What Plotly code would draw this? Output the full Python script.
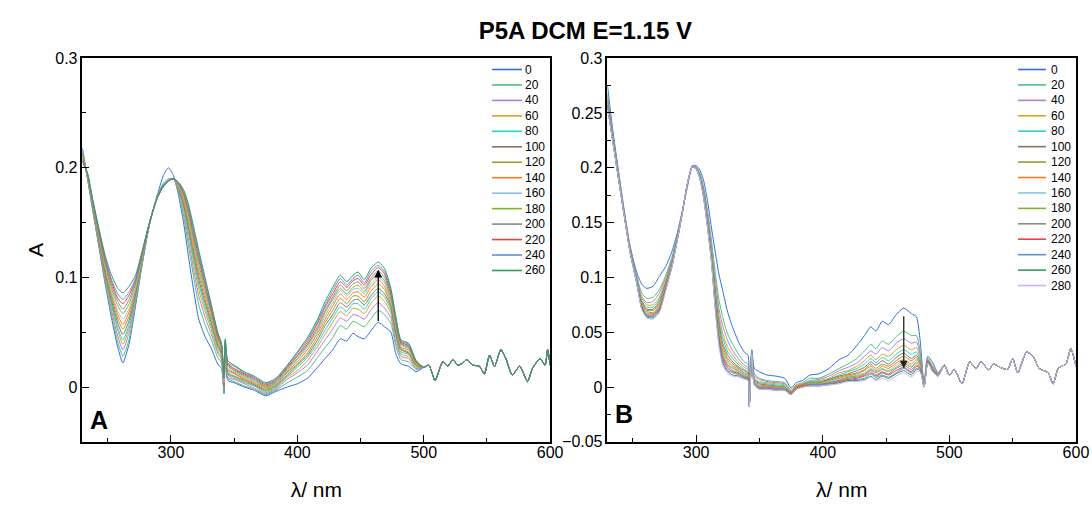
import plotly.graph_objects as go

# ---------------- data: panel A (oxidation, 0-260 s) ----------------
wl_a_head = [230, 234, 238, 243, 248, 253, 258, 262, 267, 272, 277, 283, 289, 294, 298, 302, 306, 310, 314, 318,
             322, 327, 332, 337, 340, 342, 343, 345, 350, 358, 366, 375, 383, 392, 400, 408, 416, 422, 428, 434,
             439, 444, 448, 453, 458, 464, 469, 474, 478, 482, 488, 494]
wl_a_tail = [500, 504, 509, 515, 519, 523, 527, 531, 534, 539, 544, 548, 552, 556, 561, 565, 570, 576, 582, 586,
             592, 596, 598, 600]
a_tail = [.018, .020, .006, .023, .019, .025, .020, .022, .025, .020, .019, .012, .029, .019, .034, .026, .011, .019,
          .005, .017, .026, .020, .034, .020]

a_t0 = [.218,.190,.162,.128,.094,.063,.036,.022,.040,.074,.110,.148,.174,.193,.200,.193,.175,.150,.118,.088,.062,.046,.035,.021,.017,-.006,.030,.006,.004,.000,-.003,-.008,-.004,.000,.003,.008,.018,.026,.034,.044,.042,.049,.046,.044,.051,.059,.055,.050,.030,.021,.019,.014]
a_t20 = [.217,.190,.163,.129,.096,.066,.041,.028,.044,.076,.111,.148,.174,.186,.190,.190,.177,.156,.128,.100,.075,.057,.043,.027,.022,-.004,.031,.008,.005,.001,-.002,-.007,-.003,.004,.009,.015,.027,.036,.045,.056,.053,.060,.058,.055,.062,.070,.066,.058,.037,.025,.023,.016]
a_t40 = [.216,.191,.164,.131,.099,.070,.046,.034,.050,.079,.112,.148,.174,.185,.189,.190,.179,.160,.134,.107,.083,.064,.048,.031,.025,-.003,.033,.009,.007,.003,-.001,-.006,-.002,.007,.013,.020,.033,.043,.053,.063,.060,.066,.065,.062,.070,.077,.072,.063,.041,.028,.026,.017]
a_t60 = [.214,.191,.165,.133,.101,.074,.051,.039,.054,.082,.114,.149,.173,.184,.188,.190,.180,.163,.139,.113,.089,.069,.052,.033,.027,-.001,.034,.011,.008,.004,.001,-.005,-.001,.009,.015,.024,.037,.048,.059,.069,.065,.072,.071,.067,.076,.083,.078,.067,.045,.030,.028,.018]
a_t80 = [.214,.192,.165,.134,.103,.076,.054,.043,.057,.083,.114,.149,.173,.184,.188,.190,.181,.165,.142,.117,.094,.073,.055,.036,.029,.000,.035,.012,.009,.005,.001,-.004,.000,.010,.018,.027,.040,.052,.063,.073,.069,.076,.076,.071,.080,.087,.082,.070,.047,.032,.030,.019]
a_t100 = [.213,.192,.166,.135,.104,.079,.058,.048,.061,.085,.115,.149,.173,.184,.188,.190,.182,.167,.145,.121,.098,.077,.058,.038,.030,.001,.036,.013,.010,.006,.002,-.003,.001,.011,.020,.029,.043,.056,.066,.077,.073,.079,.080,.075,.083,.090,.085,.073,.049,.034,.031,.020]
a_t120 = [.212,.192,.167,.136,.106,.082,.062,.053,.065,.087,.116,.149,.173,.183,.188,.190,.183,.169,.148,.125,.102,.080,.060,.039,.032,.003,.037,.015,.012,.007,.003,-.002,.002,.013,.021,.031,.046,.059,.070,.081,.076,.083,.083,.078,.087,.094,.089,.075,.052,.035,.032,.020]
a_t140 = [.211,.193,.168,.137,.108,.084,.066,.057,.069,.089,.117,.149,.173,.183,.188,.190,.183,.171,.152,.129,.106,.084,.063,.041,.033,.004,.038,.016,.013,.008,.004,-.001,.003,.014,.023,.034,.049,.062,.074,.085,.080,.086,.087,.082,.091,.098,.092,.078,.054,.036,.034,.021]
a_t160 = [.210,.193,.168,.139,.110,.087,.069,.062,.072,.091,.118,.149,.173,.183,.188,.190,.184,.173,.154,.132,.109,.087,.065,.043,.034,.005,.039,.017,.014,.009,.005,.000,.003,.015,.025,.036,.051,.065,.077,.088,.083,.089,.090,.085,.094,.100,.095,.080,.056,.038,.035,.022]
a_t180 = [.209,.194,.169,.140,.112,.090,.074,.067,.076,.094,.119,.149,.173,.183,.188,.190,.185,.174,.156,.134,.112,.089,.067,.044,.035,.007,.040,.019,.015,.010,.006,.000,.004,.016,.026,.038,.053,.068,.080,.090,.085,.091,.093,.087,.097,.103,.097,.082,.057,.039,.036,.022]
a_t200 = [.208,.194,.170,.141,.114,.093,.078,.071,.080,.096,.120,.150,.172,.183,.188,.190,.185,.176,.159,.137,.116,.092,.069,.046,.037,.008,.041,.020,.016,.011,.007,.001,.005,.017,.028,.039,.055,.070,.082,.093,.088,.094,.096,.090,.099,.106,.100,.084,.059,.040,.037,.023]
a_t220 = [.207,.194,.170,.142,.116,.096,.081,.076,.084,.098,.121,.150,.172,.183,.188,.190,.186,.177,.161,.140,.119,.095,.071,.047,.038,.009,.042,.021,.017,.012,.008,.002,.006,.018,.029,.041,.058,.073,.085,.096,.091,.097,.099,.093,.102,.109,.103,.086,.061,.041,.038,.023]
a_t240 = [.206,.195,.171,.143,.118,.098,.085,.080,.087,.099,.122,.150,.172,.183,.188,.190,.186,.179,.164,.143,.122,.097,.073,.049,.039,.010,.043,.022,.019,.013,.009,.003,.007,.019,.031,.043,.060,.075,.088,.099,.093,.099,.102,.095,.105,.111,.105,.088,.062,.042,.039,.024]
a_t260 = [.205,.195,.172,.145,.120,.102,.090,.086,.092,.102,.123,.150,.172,.183,.188,.190,.187,.180,.166,.146,.125,.100,.075,.050,.040,.012,.044,.024,.020,.014,.010,.004,.008,.020,.032,.045,.062,.078,.091,.102,.096,.102,.105,.098,.108,.114,.108,.090,.064,.043,.040,.024]

a_names = ["0", "20", "40", "60", "80", "100", "120", "140", "160", "180", "200", "220", "240", "260"]
a_series = [a_t0, a_t20, a_t40, a_t60, a_t80, a_t100, a_t120, a_t140, a_t160, a_t180, a_t200, a_t220, a_t240, a_t260]

# ---------------- data: panel B (0-280 s) ----------------
wl_b_head = [230, 234, 238, 243, 248, 253, 257, 261, 266, 271, 276, 281, 285, 289, 293, 297, 300, 303, 306, 309,
             312, 315, 318, 321, 325, 329, 334, 338, 341, 342, 344, 346, 350, 356, 363, 370, 375, 379, 384, 390,
             397, 405, 413, 420, 427, 433, 438, 442, 447, 452, 458, 464, 470, 474, 477, 480, 483, 487, 491]
wl_b_tail = [496, 500, 504, 510, 516, 521, 525, 531, 535, 540, 546, 550, 554, 561, 566, 571, 578, 582, 586, 592,
             596, 600]
b_tail = [.020, .011, .016, .003, .023, .017, .023, .016, .021, .018, .016, .026, .013, .032, .028, .017, .013, .003,
          .017, .021, .035, .019]

b_t0 = [.275,.236,.203,.163,.128,.105,.094,.090,.092,.101,.110,.124,.140,.160,.182,.202,.202,.198,.188,.170,.146,.124,.103,.088,.068,.054,.040,.032,.029,-.010,.034,.017,.014,.011,.010,.008,-.001,.004,.006,.011,.012,.017,.025,.029,.038,.047,.055,.051,.060,.057,.066,.072,.067,.064,.042,.004,.028,.022,.013]
b_t20 = [.268,.232,.200,.161,.126,.102,.086,.081,.082,.089,.102,.119,.138,.159,.183,.201,.201,.195,.182,.161,.135,.106,.080,.064,.048,.039,.029,.023,.021,-.013,.033,.012,.008,.006,.005,.004,-.003,.002,.004,.008,.008,.012,.017,.021,.026,.033,.039,.035,.042,.039,.046,.051,.047,.047,.032,.003,.026,.019,.012]
b_t40 = [.266,.231,.199,.161,.125,.100,.083,.077,.078,.086,.100,.117,.137,.159,.183,.201,.201,.194,.180,.158,.131,.100,.072,.056,.042,.033,.025,.020,.018,-.014,.032,.010,.007,.005,.004,.003,-.004,.001,.003,.006,.007,.010,.015,.018,.022,.028,.033,.030,.036,.033,.040,.044,.040,.041,.029,.002,.025,.018,.012]
b_t60 = [.264,.230,.198,.160,.125,.099,.081,.075,.075,.082,.098,.116,.136,.159,.184,.201,.200,.193,.179,.156,.128,.094,.066,.049,.036,.029,.022,.018,.016,-.015,.032,.008,.005,.004,.003,.002,-.004,.001,.003,.005,.006,.008,.013,.015,.019,.024,.029,.025,.030,.028,.034,.038,.034,.036,.026,.002,.025,.017,.011]
b_t80 = [.262,.229,.198,.160,.124,.099,.079,.073,.073,.080,.096,.115,.136,.159,.184,.201,.200,.193,.178,.154,.126,.091,.061,.045,.032,.026,.020,.016,.014,-.015,.032,.007,.004,.003,.002,.001,-.005,.000,.002,.005,.005,.007,.011,.014,.017,.021,.026,.022,.027,.024,.030,.034,.030,.032,.024,.001,.024,.017,.011]
b_t100 = [.261,.228,.197,.160,.124,.098,.078,.071,.071,.078,.095,.114,.135,.159,.184,.201,.200,.192,.177,.153,.124,.088,.058,.040,.029,.023,.018,.015,.013,-.016,.031,.007,.003,.002,.001,.000,-.005,.000,.002,.004,.004,.007,.010,.012,.015,.018,.023,.020,.024,.021,.027,.031,.026,.029,.022,.001,.024,.016,.011]
b_t120 = [.260,.228,.197,.159,.124,.098,.077,.070,.070,.076,.094,.114,.135,.159,.184,.201,.200,.192,.176,.151,.123,.085,.054,.037,.026,.021,.017,.013,.012,-.016,.031,.006,.002,.001,.000,.000,-.006,.000,.002,.004,.004,.006,.009,.011,.013,.016,.021,.017,.021,.019,.024,.028,.024,.027,.021,.001,.024,.016,.011]
b_t140 = [.259,.227,.197,.159,.123,.097,.076,.069,.068,.075,.093,.113,.134,.158,.184,.201,.200,.192,.175,.150,.122,.083,.052,.034,.024,.019,.016,.012,.011,-.016,.031,.005,.001,.001,.000,-.001,-.006,.000,.001,.003,.003,.005,.008,.010,.012,.015,.019,.015,.019,.017,.022,.025,.021,.025,.020,.001,.023,.016,.011]
b_t160 = [.259,.227,.196,.159,.123,.097,.075,.068,.067,.074,.092,.113,.134,.158,.184,.201,.200,.191,.175,.150,.121,.081,.050,.032,.022,.018,.015,.012,.010,-.017,.031,.005,.001,.000,-.001,-.001,-.006,-.001,.001,.003,.003,.005,.007,.009,.011,.013,.017,.014,.017,.015,.020,.024,.019,.023,.019,.001,.023,.015,.011]
b_t180 = [.258,.227,.196,.159,.123,.097,.074,.067,.067,.073,.091,.112,.134,.158,.185,.201,.199,.191,.174,.149,.120,.080,.048,.030,.020,.017,.014,.011,.009,-.017,.031,.004,.000,.000,-.001,-.001,-.006,-.001,.001,.003,.003,.004,.006,.009,.010,.012,.016,.013,.016,.014,.018,.022,.018,.022,.018,.001,.023,.015,.011]
b_t200 = [.257,.226,.196,.159,.123,.096,.074,.066,.066,.072,.091,.112,.134,.158,.185,.201,.199,.191,.174,.148,.119,.078,.046,.028,.019,.015,.013,.010,.009,-.017,.031,.004,.000,.000,-.001,-.002,-.006,-.001,.001,.002,.002,.004,.006,.008,.009,.011,.015,.011,.014,.012,.017,.020,.016,.020,.017,.000,.023,.015,.010]
b_t220 = [.257,.226,.196,.158,.123,.096,.073,.065,.065,.071,.090,.111,.134,.158,.185,.201,.199,.191,.173,.147,.118,.077,.044,.026,.017,.014,.012,.009,.008,-.017,.030,.003,-.001,-.001,-.002,-.002,-.006,-.001,.001,.002,.002,.003,.005,.007,.008,.010,.013,.010,.013,.011,.015,.018,.014,.019,.017,.000,.023,.015,.010]
b_t240 = [.256,.226,.195,.158,.122,.096,.072,.065,.064,.070,.089,.111,.133,.158,.185,.201,.199,.191,.173,.147,.117,.075,.042,.024,.015,.013,.011,.009,.007,-.018,.030,.003,-.001,-.001,-.002,-.002,-.007,-.002,.000,.002,.002,.003,.004,.006,.007,.008,.012,.009,.011,.009,.013,.017,.013,.017,.016,.000,.022,.014,.010]
b_t260 = [.256,.225,.195,.158,.122,.095,.072,.064,.063,.069,.089,.110,.133,.158,.185,.201,.199,.190,.172,.146,.116,.074,.040,.022,.014,.011,.010,.008,.007,-.018,.030,.002,-.002,-.002,-.003,-.003,-.007,-.002,.000,.001,.001,.002,.004,.006,.006,.007,.010,.007,.010,.008,.012,.015,.011,.016,.015,.000,.022,.014,.010]
b_t280 = [.255,.225,.195,.158,.122,.095,.071,.063,.062,.068,.088,.110,.133,.158,.185,.201,.199,.190,.172,.145,.115,.072,.038,.020,.012,.010,.009,.007,.006,-.018,.030,.002,-.002,-.002,-.003,-.003,-.007,-.002,.000,.001,.001,.002,.003,.005,.005,.006,.009,.006,.008,.006,.010,.013,.009,.014,.014,.000,.022,.014,.010]

b_names = ["0", "20", "40", "60", "80", "100", "120", "140", "160", "180", "200", "220", "240", "260", "280"]
b_series = [b_t0, b_t20, b_t40, b_t60, b_t80, b_t100, b_t120, b_t140, b_t160, b_t180, b_t200, b_t220, b_t240,
            b_t260, b_t280]

colors = ['#2f6fd8', '#4fbf7a', '#b07ee0', '#dba21c', '#1fd3d3', '#8c6f64', '#9d9a2e', '#ff7a1a', '#92bfe6',
          '#7fb429', '#8a8a8a', '#f53d3d', '#5b8fe6', '#2f9e5e', '#cfb0f2']

FONT = "Arial, 'Liberation Sans', sans-serif"
W, H = 1092, 505

fig = go.Figure()
for i, (nm, ys) in enumerate(zip(a_names, a_series)):
    fig.add_trace(go.Scatter(x=wl_a_head + wl_a_tail, y=ys + a_tail, mode="lines", name=nm, showlegend=False,
                             line=dict(color=colors[i], width=1, shape="spline", smoothing=0.6),
                             xaxis="x", yaxis="y"))
for i, (nm, ys) in enumerate(zip(b_names, b_series)):
    fig.add_trace(go.Scatter(x=wl_b_head + wl_b_tail, y=ys + b_tail, mode="lines", name=nm, showlegend=False,
                             line=dict(color=colors[i], width=1, shape="spline", smoothing=0.6),
                             xaxis="x2", yaxis="y2"))

ydom = [0.125, 0.8848]
axis_common = dict(showline=True, linecolor="black", linewidth=1.5, mirror=True, showgrid=False, zeroline=False,
                   ticks="inside", ticklen=7, tickwidth=1.2, tickcolor="black", automargin=False,
                   tickfont=dict(family=FONT, size=16, color="black"))

fig.update_layout(
    template="none",
    width=W, height=H,
    margin=dict(l=0, r=0, t=0, b=0, pad=0),
    paper_bgcolor="white", plot_bgcolor="white",
    font=dict(family=FONT, color="black"),
    showlegend=False,
    title=dict(text="<b>P5A DCM E=1.15 V</b>", x=0.536, xanchor="center", y=0.94, yanchor="middle",
               font=dict(family=FONT, size=24, color="black")),
    xaxis=dict(domain=[0.0755, 0.5038], range=[230, 600], anchor="y", dtick=100, tick0=0, ticklabelstandoff=-5,
               minor=dict(ticks="inside", ticklen=4, dtick=50, tick0=0, tickcolor="black"),
               title=dict(text="λ/ nm", font=dict(family=FONT, size=21), standoff=22), **axis_common),
    yaxis=dict(domain=ydom, range=[-0.05, 0.3], anchor="x", dtick=0.1, tick0=0,
               minor=dict(ticks="inside", ticklen=4, dtick=0.05, tick0=0, tickcolor="black"),
               title=dict(text="A", font=dict(family=FONT, size=21), standoff=6), **axis_common),
    xaxis2=dict(domain=[0.5563, 0.9853], range=[230, 600], anchor="y2", dtick=100, tick0=0, ticklabelstandoff=-5,
                minor=dict(ticks="inside", ticklen=4, dtick=50, tick0=0, tickcolor="black"),
                title=dict(text="λ/ nm", font=dict(family=FONT, size=21), standoff=22), **axis_common),
    yaxis2=dict(domain=ydom, range=[-0.05, 0.3], anchor="x2", dtick=0.05, tick0=0,
                minor=dict(ticks="inside", ticklen=4, dtick=0.025, tick0=0, tickcolor="black"),
                **axis_common),
)

# legends drawn as line samples + text labels (compact row spacing like the original)
def add_legend(names, x_line0, x_line1, x_text, y_first, step):
    for i, nm in enumerate(names):
        yy = 1 - (y_first + i * step) / H
        fig.add_shape(type="line", xref="paper", yref="paper", x0=x_line0 / W, x1=x_line1 / W, y0=yy, y1=yy,
                      line=dict(color=colors[i], width=1.6))
        fig.add_annotation(text=nm, xref="paper", yref="paper", x=x_text / W, y=yy, xanchor="left",
                           yanchor="middle", showarrow=False, font=dict(family=FONT, size=12, color="black"))

add_legend(a_names, 492, 522, 523, 69.5, 15.46)
add_legend(b_names, 1018, 1046, 1049, 69.5, 15.43)

# panel letters
fig.add_annotation(text="<b>A</b>", xref="x domain", yref="y domain", x=0.012, y=0.015, xanchor="left",
                   yanchor="bottom", showarrow=False, font=dict(family=FONT, size=25, color="black"))
fig.add_annotation(text="<b>B</b>", xref="x2 domain", yref="y2 domain", x=0.012, y=0.03, xanchor="left",
                   yanchor="bottom", showarrow=False, font=dict(family=FONT, size=25, color="black"))

# arrows showing the direction of change at 464 nm
ia = wl_a_head.index(464)
fig.add_annotation(x=464, y=a_t260[ia] - 0.007, ax=464, ay=a_t0[ia], xref="x", yref="y", axref="x", ayref="y",
                   text="", showarrow=True, arrowhead=2, arrowsize=1.2, arrowwidth=1.3, arrowcolor="black",
                   standoff=0, startstandoff=0)
ib = wl_b_head.index(464)
fig.add_annotation(x=464, y=b_t280[ib] + 0.004, ax=464, ay=b_t0[ib] - 0.006, xref="x2", yref="y2", axref="x2",
                   ayref="y2", text="", showarrow=True, arrowhead=2, arrowsize=1.2, arrowwidth=1.3,
                   arrowcolor="#222222", standoff=0, startstandoff=0)

fig.write_html("out.html")
